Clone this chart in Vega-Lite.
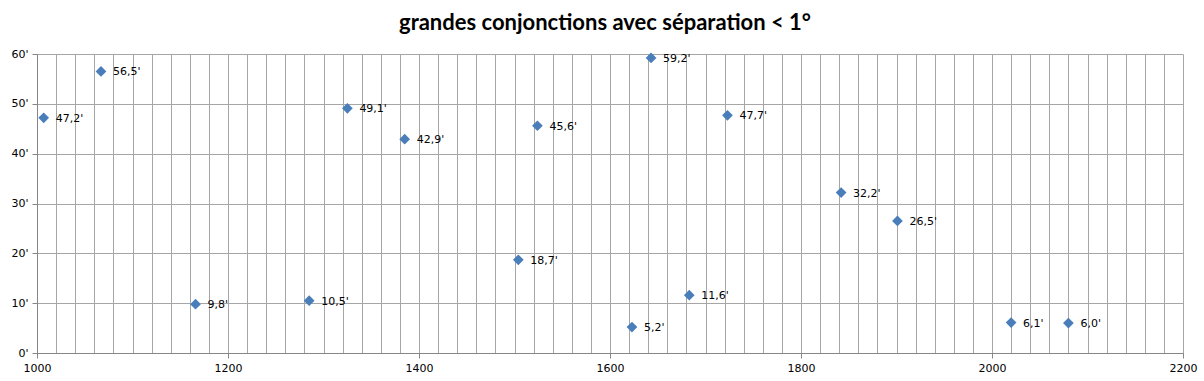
{
  "$schema": "https://vega.github.io/schema/vega-lite/v6.json",
  "autosize": "none",
  "width": 1146,
  "height": 299,
  "padding": {"left": 37, "top": 54, "right": 21, "bottom": 28},
  "background": "white",
  "title": {
    "text": "grandes conjonctions avec séparation < 1°",
    "font": "Lato",
    "fontSize": 22,
    "fontWeight": "bold",
    "color": "#000000",
    "anchor": "middle",
    "dx": -5,
    "offset": 13
  },
  "config": {
    "view": {"stroke": null},
    "axis": {
      "labelFont": "DejaVu Sans",
      "labelFontSize": 11,
      "labelColor": "#000000",
      "domainColor": "#868686",
      "tickColor": "#868686",
      "gridColor": "#a6a6a6",
      "title": null
    }
  },
  "data": {
    "values": [
      {"year": 1007, "sep": 47.2, "label": "47,2'"},
      {"year": 1067, "sep": 56.5, "label": "56,5'"},
      {"year": 1166, "sep": 9.8, "label": "9,8'"},
      {"year": 1285, "sep": 10.5, "label": "10,5'"},
      {"year": 1325, "sep": 49.1, "label": "49,1'"},
      {"year": 1385, "sep": 42.9, "label": "42,9'"},
      {"year": 1504, "sep": 18.7, "label": "18,7'"},
      {"year": 1524, "sep": 45.6, "label": "45,6'"},
      {"year": 1623, "sep": 5.2, "label": "5,2'"},
      {"year": 1643, "sep": 59.2, "label": "59,2'"},
      {"year": 1683, "sep": 11.6, "label": "11,6'"},
      {"year": 1723, "sep": 47.7, "label": "47,7'"},
      {"year": 1842, "sep": 32.2, "label": "32,2'"},
      {"year": 1901, "sep": 26.5, "label": "26,5'"},
      {"year": 2020, "sep": 6.1, "label": "6,1'"},
      {"year": 2080, "sep": 6.0, "label": "6,0'"}
    ]
  },
  "encoding": {
    "x": {
      "field": "year",
      "type": "quantitative",
      "scale": {"domain": [1000, 2200], "nice": false, "zero": false},
      "axis": {
        "values": [1000,1020,1040,1060,1080,1100,1120,1140,1160,1180,1200,1220,1240,1260,1280,1300,1320,1340,1360,1380,1400,1420,1440,1460,1480,1500,1520,1540,1560,1580,1600,1620,1640,1660,1680,1700,1720,1740,1760,1780,1800,1820,1840,1860,1880,1900,1920,1940,1960,1980,2000,2020,2040,2060,2080,2100,2120,2140,2160,2180,2200],
        "labelExpr": "datum.value % 200 === 0 ? format(datum.value, 'd') : ''",
        "tickSize": 5,
        "tickOpacity": {"condition": {"test": "datum.value % 200 === 0", "value": 1}, "value": 0},
        "labelPadding": 4,
        "labelFlush": false,
        "grid": true
      }
    },
    "y": {
      "field": "sep",
      "type": "quantitative",
      "scale": {"domain": [0, 60], "nice": false},
      "axis": {
        "values": [0, 10, 20, 30, 40, 50, 60],
        "labelExpr": "datum.value + \"'\"",
        "tickSize": 5,
        "labelPadding": 4,
        "grid": true
      }
    }
  },
  "layer": [
    {
      "mark": {"type": "point", "shape": "diamond", "filled": true, "size": 115, "color": "#4a7ebb", "opacity": 1}
    },
    {
      "mark": {"type": "text", "align": "left", "baseline": "middle", "dx": 12, "dy": 1, "font": "DejaVu Sans", "fontSize": 11, "color": "#000000"},
      "encoding": {"text": {"field": "label"}}
    }
  ]
}
